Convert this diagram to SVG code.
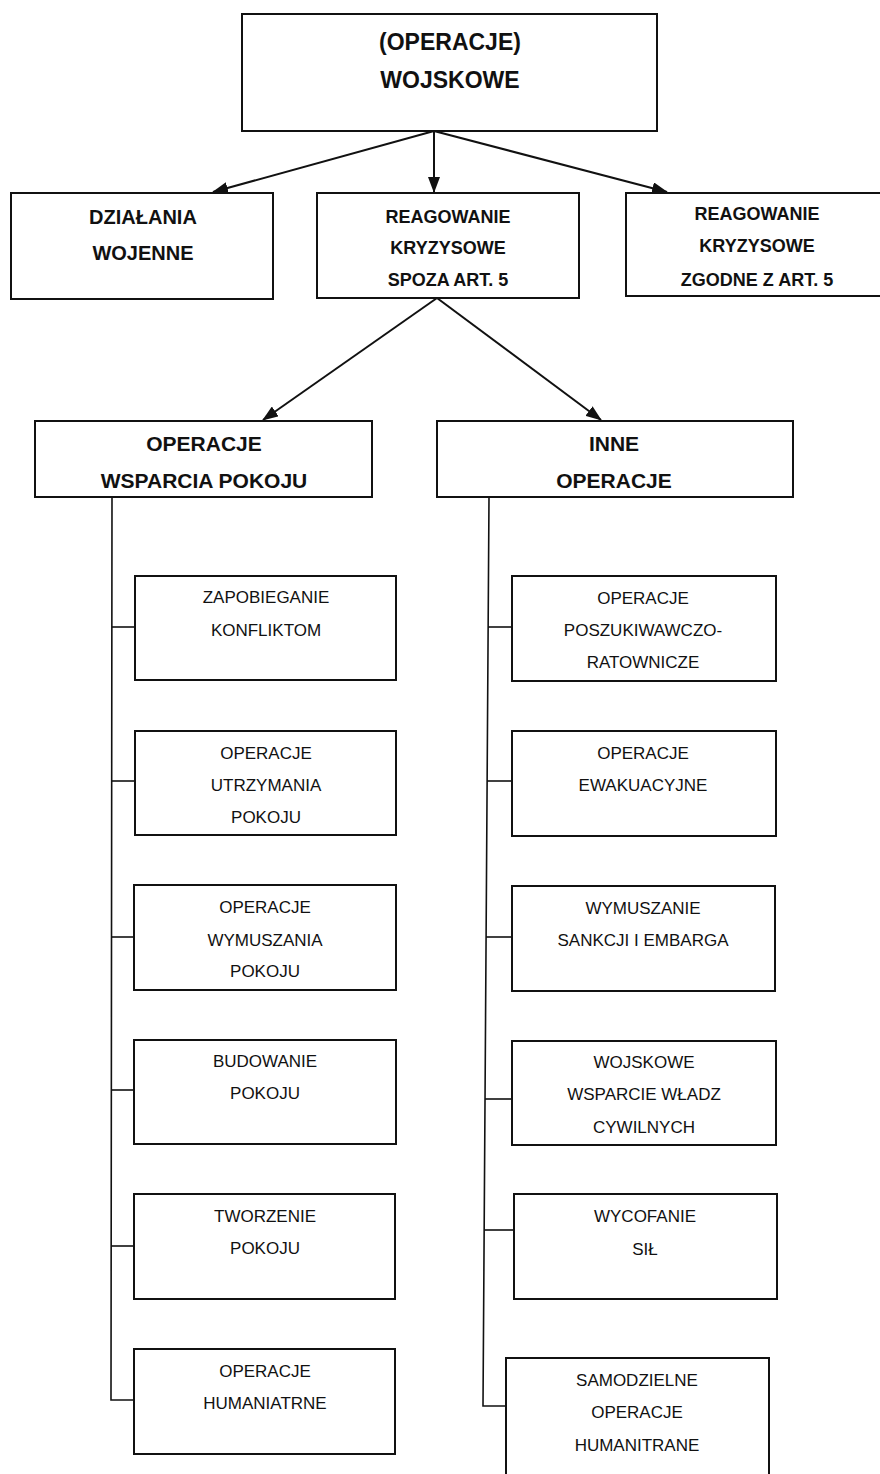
<svg xmlns="http://www.w3.org/2000/svg" width="880" height="1474" viewBox="0 0 880 1474">
  <style>
    .box { fill: #fff; stroke: #111; stroke-width: 2; }
    .conn { fill: none; stroke: #111; stroke-width: 2; }
    .tick { fill: none; stroke: #111; stroke-width: 1.6; }
    text { font-family: "Liberation Sans", Arial, sans-serif; fill: #111; text-anchor: middle; }
    .t1 { font-size: 23px; font-weight: bold; }
    .t2 { font-size: 20px; font-weight: bold; }
    .t2s { font-size: 18px; font-weight: bold; }
    .t3 { font-size: 21px; font-weight: bold; }
    .leaf { font-size: 17px; }
  </style>
  <defs>
    <marker id="arrow" markerUnits="userSpaceOnUse" markerWidth="16" markerHeight="12" refX="15" refY="6" orient="auto">
      <path d="M0,0 L16,6 L0,12 z" fill="#111"/>
    </marker>
  </defs>
  <rect width="880" height="1474" fill="#fff"/>

  <!-- connectors -->
  <g id="connectors">
    <line class="conn" x1="434" y1="131" x2="213" y2="192" marker-end="url(#arrow)"/>
    <line class="conn" x1="434" y1="131" x2="434" y2="192" marker-end="url(#arrow)"/>
    <line class="conn" x1="434" y1="131" x2="667" y2="192" marker-end="url(#arrow)"/>
    <line class="conn" x1="437" y1="298" x2="263" y2="420" marker-end="url(#arrow)"/>
    <line class="conn" x1="437" y1="298" x2="601" y2="420" marker-end="url(#arrow)"/>
    <!-- left spine -->
    <path class="tick" d="M112,497 L111,1400 L134,1400"/>
    <line class="tick" x1="112" y1="627" x2="135" y2="627"/>
    <line class="tick" x1="112" y1="781" x2="135" y2="781"/>
    <line class="tick" x1="112" y1="937" x2="134" y2="937"/>
    <line class="tick" x1="112" y1="1090" x2="134" y2="1090"/>
    <line class="tick" x1="111" y1="1246" x2="134" y2="1246"/>
    <!-- right spine -->
    <path class="tick" d="M489,497 L483,1406 L506,1406"/>
    <line class="tick" x1="488" y1="627" x2="512" y2="627"/>
    <line class="tick" x1="487" y1="781" x2="512" y2="781"/>
    <line class="tick" x1="486" y1="937" x2="512" y2="937"/>
    <line class="tick" x1="485" y1="1099" x2="512" y2="1099"/>
    <line class="tick" x1="484" y1="1230" x2="514" y2="1230"/>
  </g>

  <!-- top level -->
  <g id="wojskowe">
    <rect class="box" x="242" y="14" width="415" height="117"/>
    <text class="t1" x="450" y="50">(OPERACJE)</text>
    <text class="t1" x="450" y="88">WOJSKOWE</text>
  </g>

  <!-- second level -->
  <g id="dzialania-wojenne">
    <rect class="box" x="11" y="193" width="262" height="106"/>
    <text class="t2" x="143" y="224">DZIAŁANIA</text>
    <text class="t2" x="143" y="260">WOJENNE</text>
  </g>
  <g id="reagowanie-spoza">
    <rect class="box" x="317" y="193" width="262" height="105"/>
    <text class="t2s" x="448" y="223">REAGOWANIE</text>
    <text class="t2s" x="448" y="254">KRYZYSOWE</text>
    <text class="t2s" x="448" y="286">SPOZA ART. 5</text>
  </g>
  <g id="reagowanie-zgodne">
    <path class="box" d="M882,193 L626,193 L626,296 L882,296"/>
    <text class="t2s" x="757" y="220">REAGOWANIE</text>
    <text class="t2s" x="757" y="252">KRYZYSOWE</text>
    <text class="t2s" x="757" y="286">ZGODNE Z ART. 5</text>
  </g>

  <!-- third level -->
  <g id="wsparcie-pokoju">
    <rect class="box" x="35" y="421" width="337" height="76"/>
    <text class="t3" x="204" y="451">OPERACJE</text>
    <text class="t3" x="204" y="488">WSPARCIA POKOJU</text>
  </g>
  <g id="inne-operacje">
    <rect class="box" x="437" y="421" width="356" height="76"/>
    <text class="t3" x="614" y="451">INNE</text>
    <text class="t3" x="614" y="488">OPERACJE</text>
  </g>

  <!-- peace support operations -->
  <g id="zapobieganie">
    <rect class="box" x="135" y="576" width="261" height="104"/>
    <text class="leaf" x="266" y="603">ZAPOBIEGANIE</text>
    <text class="leaf" x="266" y="636">KONFLIKTOM</text>
  </g>
  <g id="utrzymanie">
    <rect class="box" x="135" y="731" width="261" height="104"/>
    <text class="leaf" x="266" y="759">OPERACJE</text>
    <text class="leaf" x="266" y="791">UTRZYMANIA</text>
    <text class="leaf" x="266" y="823">POKOJU</text>
  </g>
  <g id="wymuszanie-pokoju">
    <rect class="box" x="134" y="885" width="262" height="105"/>
    <text class="leaf" x="265" y="913">OPERACJE</text>
    <text class="leaf" x="265" y="946">WYMUSZANIA</text>
    <text class="leaf" x="265" y="977">POKOJU</text>
  </g>
  <g id="budowanie">
    <rect class="box" x="134" y="1040" width="262" height="104"/>
    <text class="leaf" x="265" y="1067">BUDOWANIE</text>
    <text class="leaf" x="265" y="1099">POKOJU</text>
  </g>
  <g id="tworzenie">
    <rect class="box" x="134" y="1194" width="261" height="105"/>
    <text class="leaf" x="265" y="1222">TWORZENIE</text>
    <text class="leaf" x="265" y="1254">POKOJU</text>
  </g>
  <g id="humanitarne">
    <rect class="box" x="134" y="1349" width="261" height="105"/>
    <text class="leaf" x="265" y="1377">OPERACJE</text>
    <text class="leaf" x="265" y="1409">HUMANIATRNE</text>
  </g>

  <!-- other operations -->
  <g id="poszukiwawcze">
    <rect class="box" x="512" y="576" width="264" height="105"/>
    <text class="leaf" x="643" y="604">OPERACJE</text>
    <text class="leaf" x="643" y="636">POSZUKIWAWCZO-</text>
    <text class="leaf" x="643" y="668">RATOWNICZE</text>
  </g>
  <g id="ewakuacyjne">
    <rect class="box" x="512" y="731" width="264" height="105"/>
    <text class="leaf" x="643" y="759">OPERACJE</text>
    <text class="leaf" x="643" y="791">EWAKUACYJNE</text>
  </g>
  <g id="sankcje">
    <rect class="box" x="512" y="886" width="263" height="105"/>
    <text class="leaf" x="643" y="914">WYMUSZANIE</text>
    <text class="leaf" x="643" y="946">SANKCJI I EMBARGA</text>
  </g>
  <g id="wsparcie-wladz">
    <rect class="box" x="512" y="1041" width="264" height="104"/>
    <text class="leaf" x="644" y="1068">WOJSKOWE</text>
    <text class="leaf" x="644" y="1100">WSPARCIE WŁADZ</text>
    <text class="leaf" x="644" y="1133">CYWILNYCH</text>
  </g>
  <g id="wycofanie">
    <rect class="box" x="514" y="1194" width="263" height="105"/>
    <text class="leaf" x="645" y="1222">WYCOFANIE</text>
    <text class="leaf" x="645" y="1255">SIŁ</text>
  </g>
  <g id="samodzielne">
    <path class="box" d="M506,1476 L506,1358 L769,1358 L769,1476"/>
    <text class="leaf" x="637" y="1386">SAMODZIELNE</text>
    <text class="leaf" x="637" y="1418">OPERACJE</text>
    <text class="leaf" x="637" y="1451">HUMANITRANE</text>
  </g>
</svg>
